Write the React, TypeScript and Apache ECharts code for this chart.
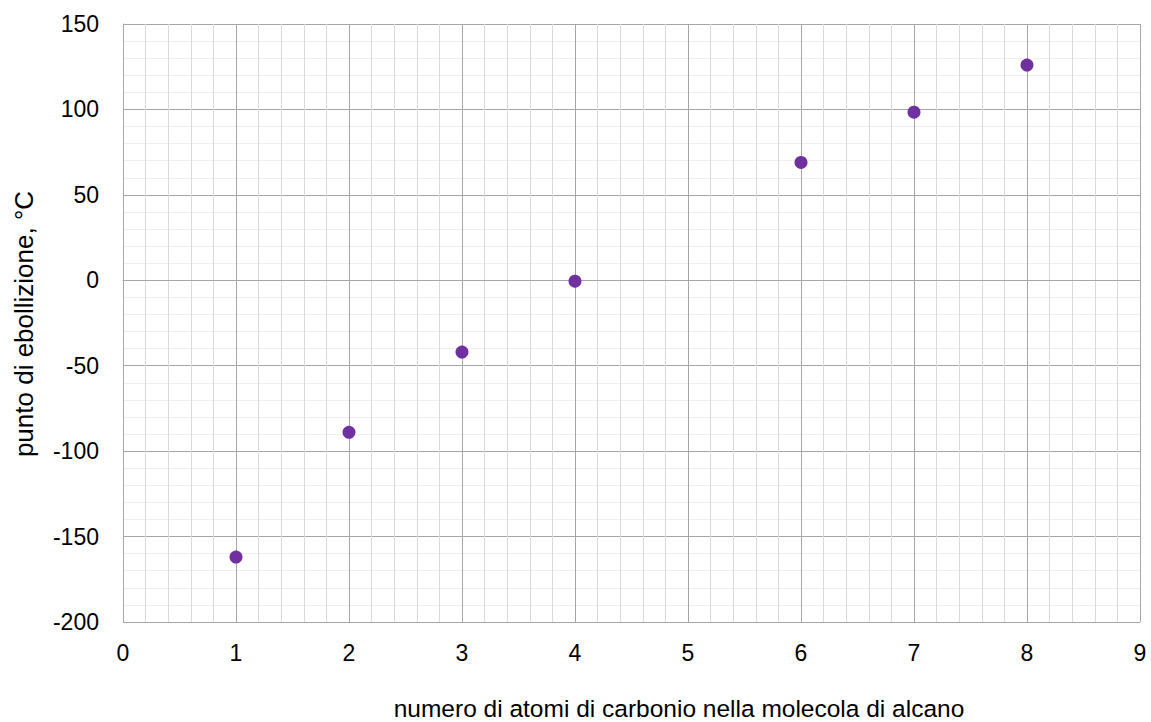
import React, { useEffect, useRef } from "react";
import * as echarts from "echarts";

const carbonAtoms = [1, 2, 3, 4, 6, 7, 8];
const boilingPoints = [-162, -89, -42, -0.5, 69, 98.4, 126];
const xTitle = "numero di atomi di carbonio nella molecola di alcano";
const yTitle = "punto di ebollizione, °C";

export default function App() {
  const ref = useRef<HTMLDivElement>(null);
  useEffect(() => {
    const chart = echarts.init(ref.current!, null, { renderer: "svg" });
    const font = "Liberation Sans, Arial, sans-serif";
    chart.setOption({
      animation: false,
      backgroundColor: "#ffffff",
      grid: { left: 123, top: 24, width: 1017, height: 598 },
      xAxis: {
        type: "value",
        min: 0,
        max: 9,
        interval: 1,
        minorTick: { show: false, splitNumber: 5 },
        minorSplitLine: { show: true, lineStyle: { color: "#d9d9d9", width: 1 } },
        splitLine: { show: true, lineStyle: { color: "#a6a6a6", width: 1 } },
        axisLine: { show: true, lineStyle: { color: "#a6a6a6" } },
        axisTick: { show: false },
        axisLabel: { color: "#000", fontFamily: font, fontSize: 23, margin: 19 },
      },
      yAxis: {
        type: "value",
        min: -200,
        max: 150,
        interval: 50,
        minorTick: { show: false, splitNumber: 5 },
        minorSplitLine: { show: true, lineStyle: { color: "#efefef", width: 1 } },
        splitLine: { show: true, lineStyle: { color: "#a6a6a6", width: 1 } },
        axisLine: { show: true, lineStyle: { color: "#a6a6a6" } },
        axisTick: { show: false },
        axisLabel: { color: "#000", fontFamily: font, fontSize: 23, margin: 24 },
      },
      graphic: [
        {
          type: "text",
          x: 679,
          y: 708,
          style: {
            text: xTitle,
            fontFamily: font,
            fontSize: 24.5,
            fill: "#000",
            textAlign: "center",
            textVerticalAlign: "middle",
          },
        },
        {
          type: "text",
          x: 24,
          y: 324,
          rotation: Math.PI / 2,
          style: {
            text: yTitle,
            fontFamily: font,
            fontSize: 26,
            fill: "#000",
            textAlign: "center",
            textVerticalAlign: "middle",
          },
        },
      ],
      series: [
        {
          type: "scatter",
          data: carbonAtoms.map((x, i) => [x, boilingPoints[i]]),
          symbol: "circle",
          symbolSize: 13,
          itemStyle: { color: "#7030a0", opacity: 1 },
        },
      ],
    });
    return () => chart.dispose();
  }, []);
  return <div ref={ref} style={{ width: 1151, height: 722, position: "absolute", left: 0, top: 0 }} />;
}
